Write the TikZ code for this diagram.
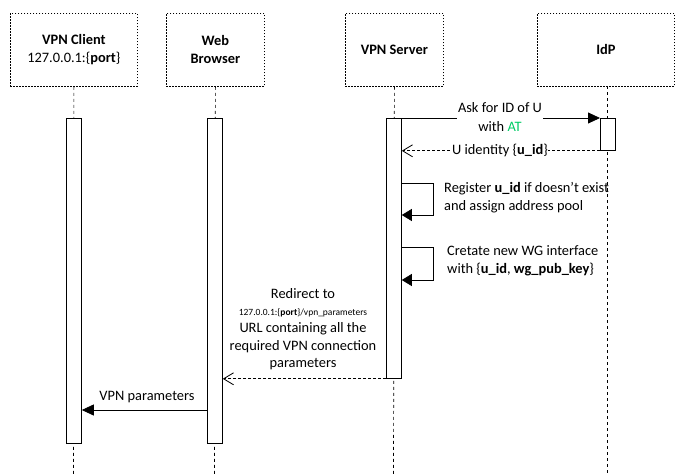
\documentclass[tikz,border=0pt]{standalone}
\usepackage{fontspec}
\setmainfont{Carlito}
\usetikzlibrary{arrows.meta,calc}
\definecolor{atgreen}{RGB}{0,204,102}
\tikzset{
  x=1pt,y=-1pt,
  headbox/.style={draw,dash pattern=on 1.5pt off 1.5pt,line width=0.8pt,minimum height=73pt,inner sep=0pt,anchor=north west,font=\fontsize{14.4}{18}\selectfont,align=center},
  actbar/.style={draw,fill=white,line width=0.8pt,minimum width=15pt,inner sep=0pt,anchor=north west},
  lifeline/.style={dash pattern=on 3pt off 3pt,line width=0.7pt},
  msg/.style={line width=0.8pt,-{Triangle[length=12pt,width=11pt]}},
  reply/.style={line width=0.8pt,dash pattern=on 3pt off 2pt,-{Straight Barb[length=10pt,width=12pt,line width=0.8pt]}},
  lbl/.style={font=\fontsize{14.4}{19}\selectfont,align=center,inner sep=1pt},
}
\begin{document}
\begin{tikzpicture}
\useasboundingbox (0,0) rectangle (675,474);
% header boxes
\node[headbox,minimum width=127pt] (cli) at (10,13) {\textbf{VPN Client}\\127.0.0.1:\{\textbf{port}\}};
\node[headbox,minimum width=98pt] (web) at (166,13) {\textbf{Web}\\\textbf{Browser}};
\node[headbox,minimum width=98pt] (srv) at (345,13) {\textbf{VPN Server}};
\node[headbox,minimum width=137pt] (idp) at (537,13) {\textbf{IdP}};
% lifelines
\coordinate (cliend) at (73.5,474);
\coordinate (webend) at (214.5,474);
\coordinate (srvend) at (393.5,474);
\coordinate (idpend) at (607.5,474);
\draw[lifeline] (cli.south) -- (cliend);
\draw[lifeline] (web.south) -- (webend);
\draw[lifeline] (srv.south) -- (srvend);
\draw[lifeline] (607.5,86) -- (idpend);
% activation bars
\node[actbar,minimum height=325pt] (clibar) at (66,118) {};
\node[actbar,minimum height=325pt] (webbar) at (207,118) {};
\node[actbar,minimum height=260pt] (srvbar) at (386,118) {};
\node[actbar,minimum height=32pt] (idpbar) at (600,118) {};
% message 1
\draw[msg] (srvbar.north east) -- (idpbar.north west);
\node[lbl,fill=white] (m1) at (500,117.5) {Ask for ID of U\\with \textcolor{atgreen}{AT}};
% message 2
\draw[reply] (idpbar.south west) -- (idpbar.south west -| srvbar.east);
\node[lbl,fill=white,inner sep=0pt] (m2) at (500,150) {U identity \{\textbf{u\_id}\}};
% self message 1
\coordinate (s1a) at ($(srvbar.north east)+(0,65)$);
\draw[msg,-{Triangle[length=10pt,width=12pt]}] (s1a) -- ++(32,0) -- ++(0,32) -- ++(-32,0);
\node[lbl,align=left,anchor=west,font=\fontsize{14.4}{18}\selectfont] (m3) at (443,198) {Register \textbf{u\_id} if doesn\char"0027 t exist\\and assign address pool};
% self message 2
\coordinate (s2a) at ($(srvbar.north east)+(0,129)$);
\draw[msg,-{Triangle[length=10pt,width=12pt]}] (s2a) -- ++(32,0) -- ++(0,33) -- ++(-32,0);
\node[lbl,align=left,anchor=west,font=\fontsize{14.4}{18}\selectfont] (m4) at (446,261) {Cretate new WG interface\\with \{\textbf{u\_id}, \textbf{wg\_pub\_key}\}};
% redirect
\draw[reply] (srvbar.south west) -- (srvbar.south west -| webbar.east);
\node[lbl,font=\fontsize{14.4}{17.5}\selectfont] (m5) at (303,329.5) {Redirect to\\[-1pt]{\fontsize{9.5}{12}\selectfont 127.0.0.1:\{\textbf{port}\}/vpn\_parameters}\\URL containing all the\\required VPN connection\\parameters};
% VPN parameters
\coordinate (vp) at (207,410);
\draw[msg] (vp) -- (vp -| clibar.east);
\node[lbl] (m6) at (147,397) {VPN parameters};
\end{tikzpicture}
\end{document}
